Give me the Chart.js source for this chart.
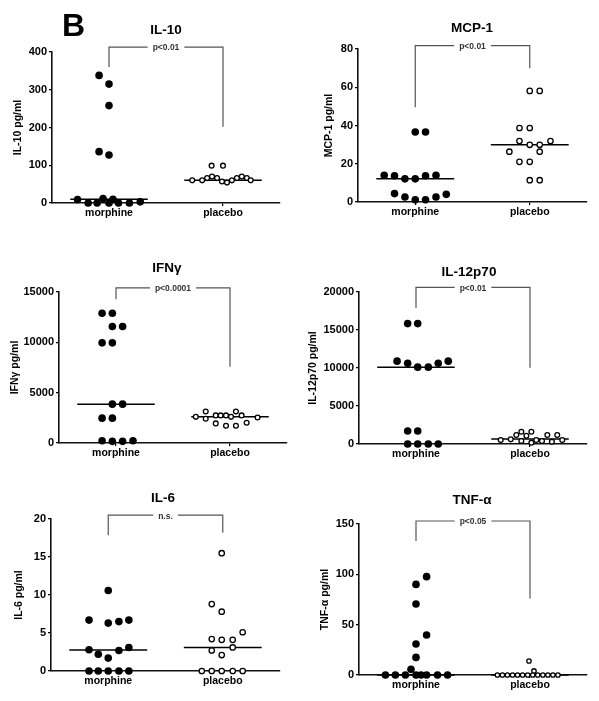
<!DOCTYPE html>
<html>
<head>
<meta charset="utf-8">
<script src="https://cdn.jsdelivr.net/npm/chart.js@4/dist/chart.umd.min.js"></script>
<style>
  body { margin: 0; background: #fff; }
  #wrap { position: relative; width: 599px; height: 701px; overflow: hidden; }
  canvas { position: absolute; }
  #letter { position: absolute; left: 62px; top: 9px; font: bold 32px/32px "Liberation Sans", Arial, sans-serif; color: #000; z-index: 2; }
</style>
</head>
<body>
<div id="wrap">
  <canvas id="c1"></canvas>
  <canvas id="c2"></canvas>
  <canvas id="c3"></canvas>
  <canvas id="c4"></canvas>
  <canvas id="c5"></canvas>
  <canvas id="c6"></canvas>
  <div id="letter">B</div>
</div>
<script>
    // groups and per-panel text
    const categories = ['morphine', 'placebo'];
    const panelTitles = ['IL-10', 'MCP-1', 'IFNγ', 'IL-12p70', 'IL-6', 'TNF-α'];
    const axisTitles = ['IL-10 pg/ml', 'MCP-1 pg/ml', 'IFNγ pg/ml', 'IL-12p70 pg/ml', 'IL-6 pg/ml', 'TNF-α pg/ml'];
    const yMax = [400, 80, 15000, 20000, 20, 150];
    const yStep = [100, 20, 5000, 5000, 5, 50];

    // significance brackets (values in y units)
    const pLabels = ['p<0.01', 'p<0.01', 'p<0.0001', 'p<0.01', 'n.s.', 'p<0.05'];
    const bracketTop = [413, 81.8, 15400, 20600, 20.5, 153];
    const bracketLeftEnd = [360, 49.5, 14270, 17900, 17.85, 133];
    const bracketRightEnd = [202, 70, 7580, 10020, 18.2, 76];

    // medians
    const morphineMedian = [10, 12.1, 3860, 10110, 2.77, 0];
    const placeboMedian = [60, 29.9, 2600, 656, 3.1, 0];

    // individual points: dx = jitter from group centre, y = value
    const il10MorphineDx = [-0.087, 0, 0, -0.087, 0, -0.276, -0.183, -0.104, -0.052, 0, 0.035, 0.083, 0.179, 0.274];
    const il10MorphineY = [338, 315, 258, 136, 127, 9, 0, 0, 12, 0, 10, 0, 0, 3];
    const il10PlaceboDx = [-0.1, 0, -0.27, -0.183, -0.139, -0.096, -0.052, -0.009, 0.035, 0.078, 0.122, 0.165, 0.209, 0.243];
    const il10PlaceboY = [99, 99, 60, 60, 66, 70, 66, 57, 54, 60, 66, 70, 66, 60];

    const mcpMorphineDx = [0, 0.09, -0.271, -0.181, -0.09, 0, 0.09, 0.181, -0.181, -0.09, 0, 0.09, 0.181, 0.271];
    const mcpMorphineY = [36.6, 36.6, 14, 13.7, 12.1, 12.1, 13.7, 14, 4.4, 2.6, 1.2, 1.2, 2.6, 4];
    const mcpPlaceboDx = [0, 0.087, -0.09, 0, -0.09, 0.181, 0, 0.087, -0.178, 0.087, -0.09, 0, 0, 0.087];
    const mcpPlaceboY = [58.1, 58.1, 38.7, 38.7, 31.9, 31.9, 29.9, 29.9, 26.3, 26.3, 21, 21, 11.4, 11.4];

    const ifnMorphineDx = [-0.122, -0.032, -0.032, 0.058, -0.122, -0.032, -0.032, 0.058, -0.122, -0.032, -0.122, -0.032, 0.058, 0.149];
    const ifnMorphineY = [12890, 12890, 11570, 11570, 9950, 9950, 3860, 3860, 2470, 2470, 230, 165, 165, 230];
    const ifnPlaceboDx = [-0.3, -0.213, -0.213, -0.125, -0.082, -0.035, 0.009, 0.052, 0.102, 0.242, -0.125, -0.035, 0.052, 0.146];
    const ifnPlaceboY = [2600, 3130, 2410, 2740, 2740, 2740, 2600, 3130, 2740, 2540, 1945, 1710, 1710, 2010];

    const il12MorphineDx = [-0.073, 0.015, -0.166, -0.073, 0.015, 0.108, 0.195, 0.283, -0.073, 0.015, -0.073, 0.015, 0.108, 0.195];
    const il12MorphineY = [15840, 15840, 10900, 10630, 10110, 10110, 10630, 10900, 1710, 1710, 0, 0, 0, 0];
    const il12PlaceboDx = [-0.257, -0.169, -0.12, -0.076, -0.076, -0.032, 0.012, 0.012, 0.055, 0.105, 0.152, 0.192, 0.239, 0.283];
    const il12PlaceboY = [525, 612, 1180, 1620, 390, 1090, 1620, 175, 525, 390, 1180, 310, 1180, 525];

    const il6MorphineDx = [0, -0.168, 0, 0.093, 0.18, -0.168, -0.087, 0, 0.093, 0.18, -0.168, -0.087, 0, 0.093, 0.18];
    const il6MorphineY = [10.6, 6.7, 6.3, 6.5, 6.7, 2.8, 2.2, 1.7, 2.7, 3.1, 0, 0, 0, 0, 0];
    const il6PlaceboDx = [-0.009, -0.096, -0.009, -0.096, -0.009, 0.087, 0.174, -0.096, -0.009, 0.087, -0.183, -0.096, -0.009, 0.087, 0.174];
    const il6PlaceboY = [15.5, 8.8, 7.8, 4.2, 4.1, 4.1, 5.1, 2.7, 2.1, 3.1, 0, 0, 0, 0, 0];

    const tnfMorphineDx = [0.093, 0, 0, 0.093, 0, 0, -0.044, -0.268, -0.181, -0.093, 0, 0.044, 0.093, 0.189, 0.277];
    const tnfMorphineY = [97.7, 90, 70.5, 39.7, 30.8, 17.5, 5.6, 0, 0, 0, 0, 0, 0, 0, 0];
    const tnfPlaceboDx = [-0.009, 0.035, -0.286, -0.242, -0.198, -0.153, -0.109, -0.065, -0.02, 0.024, 0.068, 0.113, 0.157, 0.201, 0.245];
    const tnfPlaceboY = [13.9, 4, 0, 0, 0, 0, 0, 0, 0, 0, 0, 0, 0, 0, 0];

    const morphineDx = [il10MorphineDx, mcpMorphineDx, ifnMorphineDx, il12MorphineDx, il6MorphineDx, tnfMorphineDx];
    const morphineY = [il10MorphineY, mcpMorphineY, ifnMorphineY, il12MorphineY, il6MorphineY, tnfMorphineY];
    const placeboDx = [il10PlaceboDx, mcpPlaceboDx, ifnPlaceboDx, il12PlaceboDx, il6PlaceboDx, tnfPlaceboDx];
    const placeboY = [il10PlaceboY, mcpPlaceboY, ifnPlaceboY, il12PlaceboY, il6PlaceboY, tnfPlaceboY];

    // layout of each panel on the page (pixels)
    const boxes = [
        {id: 'c1', x: 0, y: 0, w: 300, h: 225, left: 52, right: 280, top: 52, bottom: 203, titleX: 166, titleY: 30, yTitleX: 18, openR: 2.4},
        {id: 'c2', x: 300, y: 0, w: 299, h: 225, left: 58, right: 287, top: 49, bottom: 202, titleX: 172, titleY: 28, yTitleX: 29, openR: 2.7},
        {id: 'c3', x: 0, y: 225, w: 300, h: 235, left: 59, right: 287, top: 67, bottom: 218, titleX: 167, titleY: 43, yTitleX: 15, openR: 2.4},
        {id: 'c4', x: 300, y: 225, w: 299, h: 235, left: 59, right: 287, top: 67, bottom: 219, titleX: 169, titleY: 47, yTitleX: 13, openR: 2.4},
        {id: 'c5', x: 0, y: 460, w: 300, h: 241, left: 51, right: 280, top: 59, bottom: 211, titleX: 163, titleY: 38, yTitleX: 19, openR: 2.7},
        {id: 'c6', x: 300, y: 460, w: 299, h: 241, left: 59, right: 287, top: 64, bottom: 215, titleX: 172, titleY: 40, yTitleX: 25, openR: 2.2}
    ];

    const FONT = '"Liberation Sans", Arial, Helvetica, sans-serif';
    Chart.defaults.font.family = FONT;
    Chart.defaults.font.weight = 'bold';
    Chart.defaults.color = '#000';

    // bracket label and panel title drawn over the chart
    const panelText = {
        id: 'panelText',
        afterDatasetsDraw(chart, args, opts) {
            const ctx = chart.ctx;
            const px = chart.scales.x.getPixelForValue(1.5);
            const py = chart.scales.y.getPixelForValue(opts.value);
            ctx.save();
            ctx.font = 'bold 8.5px ' + FONT;
            const w = ctx.measureText(opts.text).width;
            ctx.fillStyle = '#fff';
            ctx.fillRect(px - w / 2 - 5, py - 4, w + 10, 9);
            ctx.fillStyle = '#333';
            ctx.textAlign = 'center';
            ctx.textBaseline = 'middle';
            ctx.fillText(opts.text, px, py + 1);

            ctx.font = 'bold 13.5px ' + FONT;
            ctx.fillStyle = '#000';
            ctx.fillText(opts.title, opts.titleX, opts.titleY);
            ctx.restore();
        }
    };

    function points(center, dx, ys) {
        return ys.map((v, i) => ({x: center + dx[i], y: v}));
    }

    function setPanel(i) {
        const b = boxes[i];
        const canvas = document.getElementById(b.id);
        canvas.width = b.w;
        canvas.height = b.h;
        canvas.style.left = b.x + 'px';
        canvas.style.top = b.y + 'px';
        canvas.style.width = b.w + 'px';
        canvas.style.height = b.h + 'px';

        const half = 0.34;

        new Chart(canvas, {
            type: 'scatter',
            data: {
                datasets: [
                    {
                        data: points(1, morphineDx[i], morphineY[i]),
                        backgroundColor: '#000', borderColor: '#000', borderWidth: 0,
                        pointRadius: 3.8, clip: false, order: 0
                    },
                    {
                        data: points(2, placeboDx[i], placeboY[i]),
                        backgroundColor: '#fff', borderColor: '#000', borderWidth: 1.3,
                        pointRadius: b.openR, clip: false, order: 0
                    },
                    {
                        type: 'line',
                        data: [{x: 1 - half, y: morphineMedian[i]}, {x: 1 + half, y: morphineMedian[i]}],
                        borderColor: '#000', borderWidth: 1.5, pointRadius: 0, clip: false, order: 1
                    },
                    {
                        type: 'line',
                        data: [{x: 2 - half, y: placeboMedian[i]}, {x: 2 + half, y: placeboMedian[i]}],
                        borderColor: '#000', borderWidth: 1.5, pointRadius: 0, clip: false, order: 1
                    },
                    {
                        type: 'line',
                        data: [
                            {x: 1, y: bracketLeftEnd[i]}, {x: 1, y: bracketTop[i]},
                            {x: 2, y: bracketTop[i]}, {x: 2, y: bracketRightEnd[i]}
                        ],
                        borderColor: '#555', borderWidth: 1.2, pointRadius: 0, clip: false, order: 2
                    }
                ]
            },
            options: {
                responsive: false,
                animation: false,
                events: [],
                layout: {padding: {left: 0, top: b.top, bottom: 0, right: b.w - b.right}},
                plugins: {
                    legend: {display: false},
                    tooltip: {enabled: false},
                    title: {display: false},
                    panelText: {
                        text: pLabels[i], value: bracketTop[i],
                        title: panelTitles[i], titleX: b.titleX, titleY: b.titleY
                    }
                },
                scales: {
                    x: {
                        type: 'linear',
                        min: 0.5,
                        max: 2.5,
                        afterBuildTicks: (scale) => { scale.ticks = [{value: 1}, {value: 2}]; },
                        afterFit: (scale) => { scale.height = b.h - b.bottom; },
                        ticks: {
                            callback: (v) => categories[v - 1],
                            font: {size: 10.5, weight: 'bold'},
                            color: '#000',
                            padding: 1,
                            maxRotation: 0,
                            autoSkip: false
                        },
                        grid: {drawOnChartArea: false, drawTicks: true, tickLength: 3, color: '#000', lineWidth: 1.2},
                        border: {display: true, color: '#111', width: 1.6}
                    },
                    y: {
                        min: 0,
                        max: yMax[i],
                        afterFit: (scale) => { scale.width = b.left; },
                        ticks: {
                            stepSize: yStep[i],
                            callback: (v) => String(v),
                            font: {size: 11, weight: 'bold'},
                            color: '#000',
                            padding: 2
                        },
                        grid: {drawOnChartArea: false, drawTicks: true, tickLength: 3, color: '#000', lineWidth: 1.2},
                        border: {display: true, color: '#111', width: 1.6},
                        title: {
                            display: true,
                            text: axisTitles[i],
                            color: '#000',
                            font: {size: 10.5, weight: 'bold', lineHeight: 1},
                            padding: {top: b.yTitleX - 5.25, bottom: 0}
                        }
                    }
                }
            },
            plugins: [panelText]
        });
    }

    for (let i = 0; i < boxes.length; i++) {
        setPanel(i);
    }
</script>
</body>
</html>
